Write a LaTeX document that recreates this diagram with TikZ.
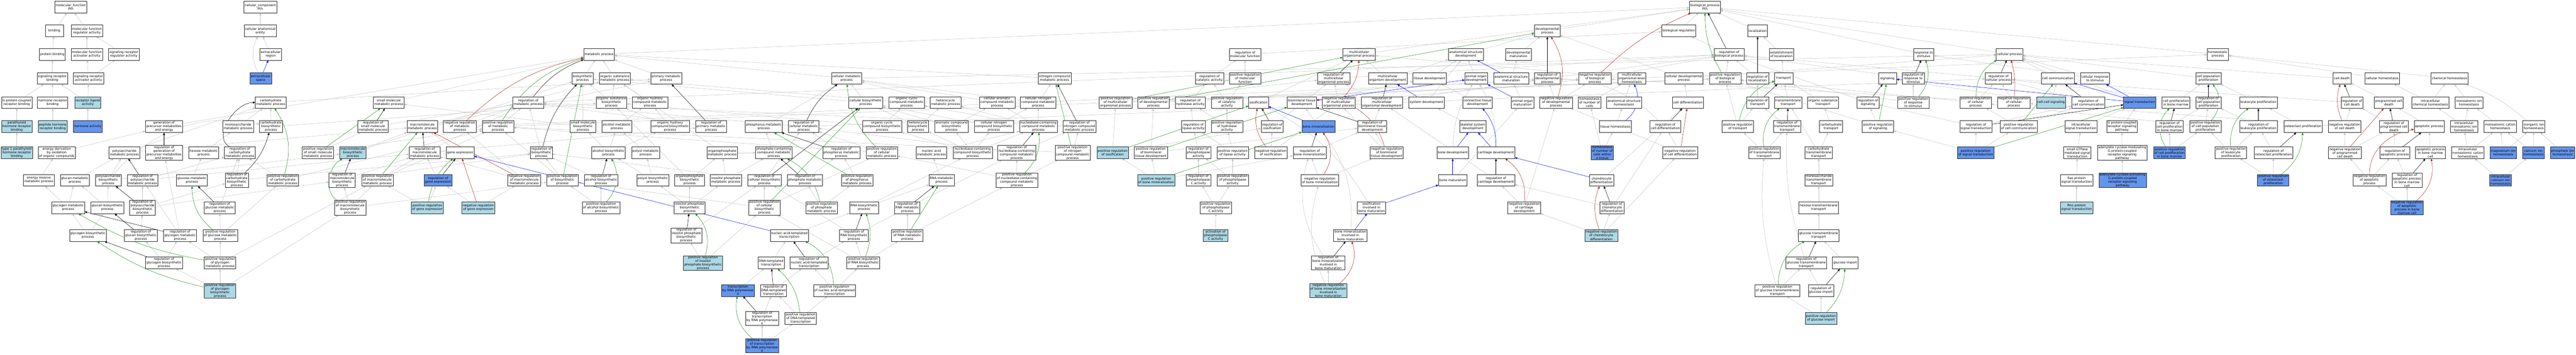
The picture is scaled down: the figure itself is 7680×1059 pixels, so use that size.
\documentclass[tikz,border=0pt]{standalone}
\usepackage{fontspec}
\setmainfont{DejaVu Sans}
\usetikzlibrary{arrows.meta,backgrounds}
\definecolor{lightblue}{RGB}{173,216,230}
\definecolor{cornflower}{RGB}{100,149,237}
\definecolor{edgegray}{RGB}{196,196,196}
\definecolor{posgreen}{RGB}{34,139,34}
\definecolor{negred}{RGB}{178,34,34}
\begin{document}
\begin{tikzpicture}[x=1pt,y=-1pt]
    \tikzstyle{term}=[rectangle,draw=black!85,line width=0.9pt,fill=white,align=center,font=\fontsize{9.5}{10.8}\selectfont,inner xsep=2.5pt,inner ysep=1pt,minimum height=35pt,minimum width=54pt]
    \tikzstyle{hit}=[term,fill=lightblue]
    \tikzstyle{annot}=[term,fill=cornflower]
    \tikzstyle{isa}=[color=edgegray,line width=0.8pt,-{Triangle[length=7pt,width=6pt]}]
    \tikzstyle{regs}=[isa,color=black]
    \tikzstyle{posregs}=[isa,color=posgreen]
    \tikzstyle{negregs}=[isa,color=negred]
    \tikzstyle{partof}=[isa,color=blue]
    \useasboundingbox (0,0) rectangle (7680,1059);
    \node[term] (mf) at (211,21) {molecular\_function\\Pth};
    \node[term] (cc) at (776,21) {cellular\_component\\Pth};
    \node[term] (bp) at (5083,21) {biological\_process\\Pth};
    \node[term] (binding) at (162,92) {binding};
    \node[term] (mfreg) at (259,92) {molecular function\\regulator activity};
    \node[term] (cae) at (776,92) {cellular anatomical\\entity};
    \node[term] (devproc) at (4613,92) {developmental\\process};
    \node[term] (bioreg) at (5005,92) {biological regulation};
    \node[term] (localization) at (5240,92) {localization};
    \node[term] (protbind) at (156,162) {protein binding};
    \node[term] (mfact) at (259,162) {molecular function\\activator activity};
    \node[term] (srra) at (369,162) {signaling receptor\\regulator activity};
    \node[term] (extreg) at (807,162) {extracellular\\region};
    \node[term] (metproc) at (1786,162) {metabolic process};
    \node[term] (regmolfunc) at (3712,162) {regulation of\\molecular function};
    \node[term] (multicellproc) at (4052,162) {multicellular\\organismal process};
    \node[term] (anatdev) at (4370,162) {anatomical structure\\development};
    \node[term] (devmatur) at (4527,162) {developmental\\maturation};
    \node[term] (regbioproc) at (5155,162) {regulation of\\biological process};
    \node[term] (estlocal) at (5311,162) {establishment\\of localization};
    \node[term] (responsestim) at (5735,162) {response to\\stimulus};
    \node[term] (cellproc) at (5991,162) {cellular process};
    \node[term] (homeoproc) at (6612,162) {homeostatic\\process};
    \node[term] (srb) at (156,234) {signaling receptor\\binding};
    \node[term] (sraa) at (264,234) {signaling receptor\\activator activity};
    \node[annot] (extspace) at (777,234) {extracellular\\space};
    \node[term] (biosyn) at (1737,234) {biosynthetic\\process};
    \node[term] (orgsubmet) at (1833,234) {organic substance\\metabolic process};
    \node[term] (primmet) at (1986,234) {primary metabolic\\process};
    \node[term] (cellmet) at (2524,234) {cellular metabolic\\process};
    \node[term] (nitrogenmet) at (3144,234) {nitrogen compound\\metabolic process};
    \node[term] (regcatal) at (3606,234) {regulation of\\catalytic activity};
    \node[term] (posregmolfunc) at (3712,234) {positive regulation\\of molecular\\function};
    \node[term] (regmulticell) at (3976,234) {regulation of\\multicellular\\organismal process};
    \node[term] (multicelldev) at (4137,234) {multicellular\\organism development};
    \node[term] (tissuedev) at (4262,234) {tissue development};
    \node[term] (animalorgandev) at (4401,234) {animal organ\\development};
    \node[term] (anatmatur) at (4505,234) {anatomical structure\\maturation};
    \node[term] (regdevproc) at (4613,234) {regulation of\\developmental\\process};
    \node[term] (negregbioproc) at (4755,234) {negative regulation\\of biological\\process};
    \node[term] (multicellhomeo) at (4865,234) {multicellular\\organismal-level\\homeostasis};
    \node[term] (celldevproc) at (5020,234) {cellular developmental\\process};
    \node[term] (posregbioproc) at (5143,234) {positive regulation\\of biological\\process};
    \node[term] (reglocal) at (5240,234) {regulation of\\localization};
    \node[term] (transport) at (5318,234) {transport};
    \node[term] (signaling) at (5627,234) {signaling};
    \node[term] (regrespstim) at (5704,234) {regulation of\\response to\\stimulus};
    \node[term] (regcellproc) at (5958,234) {regulation of\\cellular process};
    \node[term] (cellcomm) at (6135,234) {cell communication};
    \node[term] (cellrespstim) at (6246,234) {cellular response\\to stimulus};
    \node[term] (cellpopprolif) at (6584,234) {cell population\\proliferation};
    \node[term] (celldeath) at (6982,234) {cell death};
    \node[term] (cellhomeo) at (7102,234) {cellular homeostasis};
    \node[term] (chemhomeo) at (7303,234) {chemical homeostasis};
    \node[term] (gpcrb) at (50,306) {G protein-coupled\\receptor binding};
    \node[term] (hrb) at (157,306) {hormone receptor\\binding};
    \node[hit] (rla) at (262,306) {receptor ligand\\activity};
    \node[term] (carbmet) at (807,306) {carbohydrate\\metabolic process};
    \node[term] (smallmol) at (1159,306) {small molecule\\metabolic process};
    \node[term] (regmet) at (1575,306) {regulation of\\metabolic process};
    \node[term] (orgsubbio) at (1823,306) {organic substance\\biosynthetic\\process};
    \node[term] (orghydroxymet) at (1938,306) {organic hydroxy\\compound metabolic\\process};
    \node[term] (cellbiosyn) at (2581,306) {cellular biosynthetic\\process};
    \node[term] (orgcyclicmet) at (2703,306) {organic cyclic\\compound metabolic\\process};
    \node[term] (heteromet) at (2819,306) {heterocycle\\metabolic process};
    \node[term] (cellaromet) at (2973,306) {cellular aromatic\\compound metabolic\\process};
    \node[term] (cellnitromet) at (3095,306) {cellular nitrogen\\compound metabolic\\process};
    \node[term] (posregmulticell) at (3326,306) {positive regulation\\of multicellular\\organismal process};
    \node[term] (posregdev) at (3439,306) {positive regulation\\of developmental\\process};
    \node[term] (reghydrolase) at (3549,306) {regulation of\\hydrolase activity};
    \node[term] (posregcatal) at (3658,306) {positive regulation\\of catalytic\\activity};
    \node[term] (ossification) at (3752,306) {ossification};
    \node[term] (biomintissue) at (3881,306) {biomineral tissue\\development};
    \node[term] (negregmulticell) at (3991,306) {negative regulation\\of multicellular\\organismal process};
    \node[term] (regmulticelldev) at (4120,306) {regulation of\\multicellular\\organismal development};
    \node[term] (systemdev) at (4253,306) {system development};
    \node[term] (conntissuedev) at (4405,306) {connective tissue\\development};
    \node[term] (animalorganmatur) at (4539,306) {animal organ\\maturation};
    \node[term] (negregdevproc) at (4639,306) {negative regulation\\of developmental\\process};
    \node[term] (homeonumcells) at (4739,306) {homeostasis\\of number of\\cells};
    \node[term] (anatstructhomeo) at (4842,306) {anatomical structure\\homeostasis};
    \node[term] (celldiff) at (5032,306) {cell differentiation};
    \node[term] (regtransport) at (5240,306) {regulation of\\transport};
    \node[term] (tmtransport) at (5331,306) {transmembrane\\transport};
    \node[term] (orgsubtransport) at (5435,306) {organic substance\\transport};
    \node[term] (regsignaling) at (5569,306) {regulation of\\signaling};
    \node[term] (posregrespstim) at (5704,306) {positive regulation\\of response\\to stimulus};
    \node[term] (posregcellproc) at (5890,306) {positive regulation\\of cellular\\process};
    \node[term] (negregcellproc) at (6004,306) {negative regulation\\of cellular\\process};
    \node[hit] (cellcellsig) at (6115,306) {cell-cell signaling};
    \node[term] (regcellcomm) at (6226,306) {regulation of\\cell communication};
    \node[annot] (signaltrans) at (6379,306) {signal transduction};
    \node[term] (cellprolifbm) at (6487,306) {cell proliferation\\in bone marrow};
    \node[term] (regcellpopprolif) at (6584,306) {regulation of\\cell population\\proliferation};
    \node[term] (leukoprolif) at (6733,306) {leukocyte proliferation};
    \node[term] (regcelldeath) at (7012,306) {regulation of\\cell death};
    \node[term] (PCD) at (7122,306) {programmed cell\\death};
    \node[term] (intracellchemhomeo) at (7246,306) {intracellular\\chemical homeostasis};
    \node[term] (monoatomichomeo) at (7361,306) {monoatomic ion\\homeostasis};
    \node[hit] (pthrb) at (50,378) {parathyroid\\hormone receptor\\binding};
    \node[hit] (phrb) at (157,378) {peptide hormone\\receptor binding};
    \node[annot] (hormact) at (262,378) {hormone activity};
    \node[term] (genprec) at (489,378) {generation of\\precursor metabolites\\and energy};
    \node[term] (monosacc) at (710,378) {monosaccharide\\metabolic process};
    \node[term] (carbbio) at (808,378) {carbohydrate\\biosynthetic\\process};
    \node[term] (regsmallmol) at (1112,378) {regulation of\\small molecule\\metabolic process};
    \node[term] (macromet) at (1259,378) {macromolecule\\metabolic process};
    \node[term] (negregmet) at (1371,378) {negative regulation\\of metabolic\\process};
    \node[term] (posregmet) at (1485,378) {positive regulation\\of metabolic\\process};
    \node[term] (smallmolbio) at (1738,378) {small molecule\\biosynthetic\\process};
    \node[term] (alcoholmet) at (1839,378) {alcohol metabolic\\process};
    \node[term] (orghydroxybio) at (1998,378) {organic hydroxy\\compound biosynthetic\\process};
    \node[term] (regprimmet) at (2120,378) {regulation of\\primary metabolic\\process};
    \node[term] (phosmet) at (2277,378) {phosphorus metabolic\\process};
    \node[term] (regcellmet) at (2396,378) {regulation of\\cellular metabolic\\process};
    \node[term] (orgcyclicbio) at (2630,378) {organic cyclic\\compound biosynthetic\\process};
    \node[term] (heterobio) at (2737,378) {heterocycle\\biosynthetic\\process};
    \node[term] (arobio) at (2837,378) {aromatic compound\\biosynthetic\\process};
    \node[term] (cellnitrobio) at (2963,378) {cellular nitrogen\\compound biosynthetic\\process};
    \node[term] (nucleomet) at (3096,378) {nucleobase-containing\\compound metabolic\\process};
    \node[term] (regnitromet) at (3218,378) {regulation of\\nitrogen compound\\metabolic process};
    \node[term] (reglipase) at (3558,378) {regulation of\\lipase activity};
    \node[term] (posreghydrolase) at (3658,378) {positive regulation\\of hydrolase\\activity};
    \node[term] (regossif) at (3793,378) {regulation of\\ossification};
    \node[annot] (bonemin) at (3931,378) {bone mineralization};
    \node[term] (regbiomintissue) at (4091,378) {regulation of\\biomineral tissue\\development};
    \node[term] (skeletaldev) at (4391,378) {skeletal system\\development};
    \node[term] (tissuehomeo) at (4816,378) {tissue homeostasis};
    \node[term] (regcelldiff) at (4965,378) {regulation of\\cell differentiation};
    \node[term] (posregtransport) at (5181,378) {positive regulation\\of transport};
    \node[term] (regtmtransport) at (5328,378) {regulation of\\transmembrane\\transport};
    \node[term] (carbtransport) at (5459,378) {carbohydrate\\transport};
    \node[term] (posregsignaling) at (5599,378) {positive regulation\\of signaling};
    \node[term] (regsigtrans) at (5891,378) {regulation of\\signal transduction};
    \node[term] (posregcellcomm) at (6018,378) {positive regulation\\of cell communication};
    \node[term] (intracellsig) at (6204,378) {intracellular\\signal transduction};
    \node[term] (gpcrsig) at (6326,378) {G protein-coupled\\receptor signaling\\pathway};
    \node[term] (regcellprolifbm) at (6468,378) {regulation of\\cell proliferation\\in bone marrow};
    \node[term] (posregcellpopprolif) at (6575,378) {positive regulation\\of cell population\\proliferation};
    \node[term] (regleukoprolif) at (6733,378) {regulation of\\leukocyte proliferation};
    \node[term] (osteoclastprolif) at (6866,378) {osteoclast proliferation};
    \node[term] (negregcelldeath) at (6990,378) {negative regulation\\of cell death};
    \node[term] (regPCD) at (7137,378) {regulation of\\programmed cell\\death};
    \node[term] (apoptotic) at (7242,378) {apoptotic process};
    \node[term] (intracellmonoatomic) at (7346,378) {intracellular\\monoatomic ion\\homeostasis};
    \node[term] (monoatomiccation) at (7454,378) {monoatomic cation\\homeostasis};
    \node[term] (inorganicion) at (7554,378) {inorganic ion\\homeostasis};
    \node[hit] (t1pth) at (50,456) {type 1 parathyroid\\hormone receptor\\binding};
    \node[term] (edox) at (169,456) {energy derivation\\by oxidation\\of organic compounds};
    \node[term] (polysacc) at (371,456) {polysaccharide\\metabolic process};
    \node[term] (reggenprec) at (489,456) {regulation of\\generation of\\precursor metabolites\\and energy};
    \node[term] (hexose) at (607,456) {hexose metabolic\\process};
    \node[term] (regcarbmet) at (715,456) {regulation of\\carbohydrate\\metabolic process};
    \node[term] (posregsmallmol) at (948,456) {positive regulation\\of small molecule\\metabolic process};
    \node[hit] (macrobio) at (1052,456) {macromolecule\\biosynthetic\\process};
    \node[term] (regmacromet) at (1266,456) {regulation of\\macromolecule\\metabolic process};
    \node[term] (geneexpr) at (1372,456) {gene expression};
    \node[term] (regbiosyn) at (1614,456) {regulation of\\biosynthetic\\process};
    \node[term] (alcoholbio) at (1814,456) {alcohol biosynthetic\\process};
    \node[term] (polyolmet) at (1925,456) {polyol metabolic\\process};
    \node[term] (orgphosmet) at (2153,456) {organophosphate\\metabolic process};
    \node[term] (phoscontmet) at (2307,456) {phosphate-containing\\compound metabolic\\process};
    \node[term] (regphosmet) at (2508,456) {regulation of\\phosphorus metabolic\\process};
    \node[term] (posregcellmet) at (2629,456) {positive regulation\\of cellular\\metabolic process};
    \node[term] (nucacidmet) at (2777,456) {nucleic acid\\metabolic process};
    \node[term] (nucleobio) at (2900,456) {nucleobase-containing\\compound biosynthetic\\process};
    \node[term] (regnucleomet) at (3031,456) {regulation of\\nucleobase-containing\\compound metabolic\\process};
    \node[term] (posregnitromet) at (3198,456) {positive regulation\\of nitrogen\\compound metabolic\\process};
    \node[hit] (posregossif) at (3317,456) {positive regulation\\of ossification};
    \node[term] (posregbiomin) at (3431,456) {positive regulation\\of biomineral\\tissue development};
    \node[term] (regphospholipase) at (3573,456) {regulation of\\phospholipase\\activity};
    \node[term] (posreglipase) at (3675,456) {positive regulation\\of lipase activity};
    \node[term] (negregossif) at (3789,456) {negative regulation\\of ossification};
    \node[term] (regbonemin) at (3905,456) {regulation of\\bone mineralization};
    \node[term] (negregbiomin) at (4134,456) {negative regulation\\of biomineral\\tissue development};
    \node[term] (bonedev) at (4331,456) {bone development};
    \node[term] (cartdev) at (4460,456) {cartilage development};
    \node[annot] (homeonumcellstissue) at (4777,456) {homeostasis\\of number of\\cells within\\a tissue};
    \node[term] (negregcelldiff) at (5009,456) {negative regulation\\of cell differentiation};
    \node[term] (posregtmtransport) at (5260,456) {positive regulation\\of transmembrane\\transport};
    \node[term] (carbtmtransport) at (5422,456) {carbohydrate\\transmembrane\\transport};
    \node[annot] (posregsigtrans) at (5890,456) {positive regulation\\of signal transduction};
    \node[term] (smallGTPase) at (6193,456) {small GTPase\\mediated signal\\transduction};
    \node[term] (adenylmod) at (6327,456) {adenylate cyclase-modulating\\G protein-coupled\\receptor signaling\\pathway};
    \node[annot] (posregcellprolifbm) at (6468,456) {positive regulation\\of cell proliferation\\in bone marrow};
    \node[term] (posregleukoprolif) at (6651,456) {positive regulation\\of leukocyte\\proliferation};
    \node[term] (regosteoclastprolif) at (6778,456) {regulation of\\osteoclast proliferation};
    \node[term] (negregPCD) at (6991,456) {negative regulation\\of programmed\\cell death};
    \node[term] (regapop) at (7140,456) {regulation of\\apoptotic process};
    \node[term] (apopbm) at (7246,456) {apoptotic process\\in bone marrow\\cell};
    \node[term] (intracellmonocation) at (7357,456) {intracellular\\monoatomic cation\\homeostasis};
    \node[annot] (magnesium) at (7463,456) {magnesium ion\\homeostasis};
    \node[annot] (calcium) at (7553,456) {calcium ion\\homeostasis};
    \node[annot] (phosphate) at (7640,456) {phosphate ion\\homeostasis};
    \node[term] (energyres) at (116,538) {energy reserve\\metabolic process};
    \node[term] (glucanmet) at (223,538) {glucan metabolic\\process};
    \node[term] (polysaccbio) at (323,538) {polysaccharide\\biosynthetic\\process};
    \node[term] (regpolysacc) at (425,538) {regulation of\\polysaccharide\\metabolic process};
    \node[term] (glucosemet) at (572,538) {glucose metabolic\\process};
    \node[term] (regcarbbio) at (706,538) {regulation of\\carbohydrate\\biosynthetic\\process};
    \node[term] (posregcarbmet) at (843,538) {positive regulation\\of carbohydrate\\metabolic process};
    \node[term] (regmacrobio) at (1020,538) {regulation of\\macromolecule\\biosynthetic\\process};
    \node[term] (posregmacromet) at (1125,538) {positive regulation\\of macromolecule\\metabolic process};
    \node[annot] (regGE) at (1306,538) {regulation of\\gene expression};
    \node[term] (negregmacromet) at (1563,538) {negative regulation\\of macromolecule\\metabolic process};
    \node[term] (posregbiosyn) at (1677,538) {positive regulation\\of biosynthetic\\process};
    \node[term] (regalcoholbio) at (1792,538) {regulation of\\alcohol biosynthetic\\process};
    \node[term] (polyolbio) at (1946,538) {polyol biosynthetic\\process};
    \node[term] (orgphosbio) at (2056,538) {organophosphate\\biosynthetic\\process};
    \node[term] (inosphosmet) at (2164,538) {inositol phosphate\\metabolic process};
    \node[term] (regcellbiosyn) at (2279,538) {regulation of\\cellular biosynthetic\\process};
    \node[term] (regphosphatemet) at (2400,538) {regulation of\\phosphate metabolic\\process};
    \node[term] (posregphosmet) at (2555,538) {positive regulation\\of phosphorus\\metabolic process};
    \node[term] (rnamet) at (2807,538) {RNA metabolic\\process};
    \node[term] (posregnucleomet) at (3032,538) {positive regulation\\of nucleobase-containing\\compound metabolic\\process};
    \node[hit] (posregbonemin) at (3447,538) {positive regulation\\of bone mineralization};
    \node[term] (regPLC) at (3573,538) {regulation of\\phospholipase\\C activity};
    \node[term] (posregphospholipase) at (3675,538) {positive regulation\\of phospholipase\\activity};
    \node[term] (negregbonemin) at (3935,538) {negative regulation\\of bone mineralization};
    \node[term] (bonematur) at (4331,538) {bone maturation};
    \node[term] (regcartdev) at (4460,538) {regulation of\\cartilage development};
    \node[term] (chondrodiff) at (4775,538) {chondrocyte\\differentiation};
    \node[term] (monosacctm) at (5422,538) {monosaccharide\\transmembrane\\transport};
    \node[term] (rasprot) at (6191,538) {Ras protein\\signal transduction};
    \node[annot] (adenylact) at (6328,538) {adenylate cyclase-activating\\G protein-coupled\\receptor signaling\\pathway};
    \node[annot] (posregosteoclastprolif) at (6777,538) {positive regulation\\of osteoclast\\proliferation};
    \node[term] (negregapop) at (7064,538) {negative regulation\\of apoptotic\\process};
    \node[term] (regapopbm) at (7176,538) {regulation of\\apoptotic process\\in bone marrow\\cell};
    \node[annot] (intracellcalcium) at (7455,538) {intracellular\\calcium ion\\homeostasis};
    \node[term] (glycogenmet) at (203,620) {glycogen metabolic\\process};
    \node[term] (glucanbio) at (320,620) {glucan biosynthetic\\process};
    \node[term] (regpolysaccbio) at (425,620) {regulation of\\polysaccharide\\biosynthetic\\process};
    \node[term] (regglucosemet) at (655,620) {regulation of\\glucose metabolic\\process};
    \node[term] (posregmacrobio) at (1044,620) {positive regulation\\of macromolecule\\biosynthetic\\process};
    \node[hit] (posregGE) at (1274,620) {positive regulation\\of gene expression};
    \node[hit] (negregGE) at (1426,620) {negative regulation\\of gene expression};
    \node[term] (posregalcoholbio) at (1792,620) {positive regulation\\of alcohol biosynthetic\\process};
    \node[term] (inosphosbio) at (2056,620) {inositol phosphate\\biosynthetic\\process};
    \node[term] (posregcellbiosyn) at (2279,620) {positive regulation\\of cellular\\biosynthetic\\process};
    \node[term] (posregphosphatemet) at (2449,620) {positive regulation\\of phosphate\\metabolic process};
    \node[term] (rnabiosyn) at (2576,620) {RNA biosynthetic\\process};
    \node[term] (regrnamet) at (2705,620) {regulation of\\RNA metabolic\\process};
    \node[term] (posregPLC) at (3625,620) {positive regulation\\of phospholipase\\C activity};
    \node[term] (ossifbonematur) at (4089,620) {ossification\\involved in\\bone maturation};
    \node[term] (negregcartdev) at (4544,620) {negative regulation\\of cartilage\\development};
    \node[term] (regchondrodiff) at (4806,620) {regulation of\\chondrocyte\\differentiation};
    \node[term] (hexosetm) at (5422,620) {hexose transmembrane\\transport};
    \node[hit] (rhoprot) at (6191,620) {Rho protein\\signal transduction};
    \node[annot] (negregapopbm) at (7176,620) {negative regulation\\of apoptotic\\process in bone\\marrow cell};
    \node[term] (glycogenbio) at (262,703) {glycogen biosynthetic\\process};
    \node[term] (regglucanbio) at (420,703) {regulation of\\glucan biosynthetic\\process};
    \node[term] (regglycogenmet) at (537,703) {regulation of\\glycogen metabolic\\process};
    \node[term] (posregglucosemet) at (657,703) {positive regulation\\of glucose metabolic\\process};
    \node[term] (reginosphosbio) at (2046,703) {regulation of\\inositol phosphate\\biosynthetic\\process};
    \node[term] (nucacidtrans) at (2353,703) {nucleic acid-templated\\transcription};
    \node[term] (regrnabiosyn) at (2546,703) {regulation of\\RNA biosynthetic\\process};
    \node[term] (posregrnamet) at (2705,703) {positive regulation\\of RNA metabolic\\process};
    \node[hit] (actPLC) at (3624,703) {activation of\\phospholipase\\C activity};
    \node[term] (boneminbonematur) at (4026,703) {bone mineralization\\involved in\\bone maturation};
    \node[hit] (negregchondrodiff) at (4774,703) {negative regulation\\of chondrocyte\\differentiation};
    \node[term] (glucosetm) at (5422,703) {glucose transmembrane\\transport};
    \node[term] (regglycogenbio) at (489,785) {regulation of\\glycogen biosynthetic\\process};
    \node[term] (posregglycogenmet) at (656,785) {positive regulation\\of glycogen\\metabolic process};
    \node[hit] (posreginosphosbio) at (2096,785) {positive regulation\\of inositol\\phosphate biosynthetic\\process};
    \node[term] (dnatrans) at (2299,785) {DNA-templated\\transcription};
    \node[term] (regnucacidtrans) at (2412,785) {regulation of\\nucleic acid-templated\\transcription};
    \node[term] (posregrnabiosyn) at (2573,785) {positive regulation\\of RNA biosynthetic\\process};
    \node[term] (regboneminbonematur) at (3960,785) {regulation of\\bone mineralization\\involved in\\bone maturation};
    \node[term] (regglucosetm) at (5385,785) {regulation of\\glucose transmembrane\\transport};
    \node[term] (glucoseimport) at (5501,785) {glucose import};
    \node[hit] (posregglycogenbio) at (656,868) {positive regulation\\of glycogen\\biosynthetic\\process};
    \node[annot] (transRNAPII) at (2200,867) {transcription\\by RNA polymerase\\II};
    \node[term] (regDNAtrans) at (2306,867) {regulation of\\DNA-templated\\transcription};
    \node[term] (posregnucacidtrans) at (2488,867) {positive regulation\\of nucleic acid-templated\\transcription};
    \node[hit] (negregboneminbonematur) at (3960,868) {negative regulation\\of bone mineralization\\involved in\\bone maturation};
    \node[term] (posregglucosetm) at (5299,867) {positive regulation\\of glucose transmembrane\\transport};
    \node[term] (regglucoseimport) at (5429,867) {regulation of\\glucose import};
    \node[term] (regtransRNAPII) at (2272,950) {regulation of\\transcription\\by RNA polymerase\\II};
    \node[term] (posregDNAtrans) at (2387,950) {positive regulation\\of DNA-templated\\transcription};
    \node[hit] (posregglucoseimport) at (5429,950) {positive regulation\\of glucose import};
    \node[annot] (posregtransRNAPII) at (2272,1032) {positive regulation\\of transcription\\by RNA polymerase\\II};
    \begin{pgfonlayer}{background}
    \fill[white] (0,0) rectangle (7680,1059);
    \path[isa] (binding) edge (mf) (mfreg) edge (mf) (protbind) edge (binding) (mfact) edge (mfreg) (srra) edge (mfreg)
      (srb) edge (protbind) (sraa) edge (mfact) (sraa) edge (srra) (gpcrb) edge (srb) (hrb) edge (srb) (rla) edge (srb)
      (rla) edge (sraa) (pthrb) edge (gpcrb) (phrb) edge (hrb) (hormact) edge (rla) (t1pth) edge (pthrb)
      (cae) edge (cc) (extreg) edge (cae) (extspace) edge[bend left=25] (cae);
    \path[isa] (edox) edge (genprec) (energyres) edge (edox) (glucanmet) edge (polysacc) (polysaccbio) edge (polysacc)
      (glycogenmet) edge (energyres) (glycogenmet) edge (glucanmet) (glucanbio) edge (glucanmet) (glucanbio) edge (polysaccbio)
      (regpolysaccbio) edge (regpolysacc) (glycogenbio) edge (glycogenmet) (glycogenbio) edge (glucanbio)
      (regglucanbio) edge (regpolysaccbio) (regglycogenmet) edge (regpolysacc) (regglycogenmet) edge (reggenprec)
      (regglycogenbio) edge (regglucanbio) (regglycogenbio) edge (regglycogenmet) (posregglycogenmet) edge (regglycogenmet)
      (posregglycogenmet) edge (posregglucosemet) (posregglycogenbio) edge (regglycogenbio) (posregglycogenbio) edge (posregglycogenmet)
      (glucosemet) edge (hexose) (posregglucosemet) edge (regglucosemet) (hexose) edge (monosacc) (polysacc) edge (carbmet)
      (polysacc) edge (macromet) (polysaccbio) edge[bend left=30] (carbbio) (polysaccbio) edge (macrobio) (genprec) edge (metproc)
      (regpolysacc) edge (regcarbmet) (regpolysacc) edge (regmacromet) (regpolysaccbio) edge (regcarbbio) (regpolysaccbio) edge (regmacrobio)
      (regglucosemet) edge (regcarbmet) (posregglucosemet) edge (posregcarbmet) (posregglycogenbio) edge (posregmacrobio)
      (posregglycogenmet) edge (posregmacromet);
    \path[isa] (monosacc) edge (carbmet) (carbbio) edge (carbmet) (carbbio) edge (orgsubbio) (regcarbbio) edge (regcarbmet)
      (regcarbbio) edge (regbiosyn) (posregcarbmet) edge (regcarbmet) (posregcarbmet) edge (posregmet) (posregsmallmol) edge (regsmallmol)
      (posregsmallmol) edge (posregmet) (regsmallmol) edge (regmet) (macrobio) edge (macromet) (macrobio) edge (biosyn)
      (regmacrobio) edge (regmacromet) (regmacrobio) edge (regbiosyn) (posregmacromet) edge (regmacromet) (posregmacromet) edge (posregmet)
      (posregmacrobio) edge (regmacrobio) (posregmacrobio) edge (posregmacromet) (posregmacrobio) edge (posregbiosyn)
      (posregGE) edge (regGE) (posregGE) edge (posregmacromet) (negregGE) edge (regGE) (negregGE) edge (negregmacromet)
      (regGE) edge (regmacromet) (geneexpr) edge (macromet) (regmacromet) edge (regmet) (regmacromet) edge (regprimmet)
      (smallmol) edge (metproc) (carbmet) edge (primmet) (macromet) edge (orgsubmet) (macromet) edge (primmet);
    \path[isa] (biosyn) edge (metproc) (orgsubmet) edge (metproc) (negregmet) edge (regmet) (posregmet) edge (regmet)
      (regbiosyn) edge (regmet) (posregbiosyn) edge (regbiosyn) (posregbiosyn) edge (posregmet) (negregmacromet) edge (negregmet)
      (negregmacromet) edge (regmacromet) (orgsubbio) edge (orgsubmet) (orgsubbio) edge (biosyn) (smallmolbio) edge (biosyn)
      (smallmolbio) edge (smallmol) (alcoholmet) edge (orghydroxymet) (alcoholbio) edge (alcoholmet) (alcoholbio) edge (smallmolbio)
      (alcoholbio) edge (orghydroxybio) (posregalcoholbio) edge (regalcoholbio) (posregalcoholbio) edge (posregbiosyn)
      (polyolmet) edge (alcoholmet) (polyolbio) edge (polyolmet) (polyolbio) edge (alcoholbio) (orghydroxymet) edge (orgsubmet)
      (regalcoholbio) edge (regbiosyn) (primmet) edge (metproc) (regprimmet) edge (regmet) (cellmet) edge (metproc)
      (regcellmet) edge (regmet) (orghydroxybio) edge (orghydroxymet) (orghydroxybio) edge (orgsubbio) (phosmet) edge (cellmet)
      (orgphosmet) edge (phoscontmet) (orgphosmet) edge (orgsubmet) (phoscontmet) edge (phosmet) (regphosmet) edge (regcellmet)
      (regphosphatemet) edge (regphosmet) (posregphosmet) edge (regphosmet) (posregphosphatemet) edge (regphosphatemet)
      (posregphosphatemet) edge (posregphosmet) (orgphosbio) edge (orgphosmet) (orgphosbio) edge (orgsubbio)
      (inosphosmet) edge (orgphosmet) (inosphosmet) edge (phoscontmet) (regcellbiosyn) edge (regbiosyn) (regcellbiosyn) edge (regcellmet)
      (posregcellbiosyn) edge (regcellbiosyn) (posregcellbiosyn) edge (posregbiosyn) (posregcellbiosyn) edge (posregcellmet)
      (inosphosbio) edge (inosphosmet) (inosphosbio) edge (orgphosbio) (inosphosbio) edge (polyolbio) (reginosphosbio) edge (regcellbiosyn)
      (posreginosphosbio) edge (reginosphosbio) (posreginosphosbio) edge (posregcellbiosyn);
    \path[isa] (nucacidtrans) edge (rnabiosyn) (dnatrans) edge (nucacidtrans) (regnucacidtrans) edge (regrnabiosyn)
      (posregrnabiosyn) edge (regrnabiosyn) (posregrnabiosyn) edge (posregcellbiosyn) (posregrnabiosyn) edge (posregrnamet)
      (transRNAPII) edge (dnatrans) (regDNAtrans) edge (regnucacidtrans) (posregnucacidtrans) edge (regnucacidtrans)
      (posregnucacidtrans) edge (posregrnabiosyn) (regtransRNAPII) edge (regDNAtrans) (posregDNAtrans) edge (regDNAtrans)
      (posregDNAtrans) edge (posregnucacidtrans) (posregtransRNAPII) edge (regtransRNAPII) (posregtransRNAPII) edge (posregDNAtrans)
      (regrnabiosyn) edge (regcellbiosyn) (regrnabiosyn) edge (regrnamet) (cellbiosyn) edge (cellmet) (cellbiosyn) edge (biosyn)
      (nitrogenmet) edge (metproc) (orgcyclicmet) edge (orgsubmet) (heteromet) edge (cellmet) (cellaromet) edge (cellmet)
      (cellnitromet) edge (nitrogenmet) (cellnitromet) edge (cellmet) (orgcyclicbio) edge (orgcyclicmet) (orgcyclicbio) edge (orgsubbio)
      (heterobio) edge (heteromet) (heterobio) edge (cellbiosyn) (arobio) edge (cellaromet) (arobio) edge (cellbiosyn)
      (cellnitrobio) edge (cellnitromet) (cellnitrobio) edge (cellbiosyn) (nucleomet) edge (heteromet) (nucleomet) edge (cellaromet)
      (nucleomet) edge (cellnitromet) (nucleomet) edge (orgcyclicmet) (regnitromet) edge (regmet) (posregcellmet) edge (regcellmet)
      (posregcellmet) edge (posregmet) (nucacidmet) edge (nucleomet) (nucleobio) edge (nucleomet) (nucleobio) edge (heterobio)
      (nucleobio) edge (arobio) (nucleobio) edge (cellnitrobio) (nucleobio) edge (orgcyclicbio) (regnucleomet) edge (regnitromet)
      (regnucleomet) edge (regcellmet) (posregnitromet) edge (regnitromet) (posregnitromet) edge (posregmet) (rnamet) edge (nucacidmet)
      (posregrnamet) edge (regrnamet) (posregrnamet) edge (posregnucleomet) (posregnucleomet) edge (regnucleomet)
      (posregnucleomet) edge (posregnitromet) (posregnucleomet) edge (posregcellmet) (regrnamet) edge (regnucleomet)
      (rnabiosyn) edge (rnamet) (rnabiosyn) edge (nucleobio);
    \path[isa] (regmolfunc) edge (bioreg) (regcatal) edge (regmolfunc) (posregmolfunc) edge (regmolfunc) (reghydrolase) edge (regcatal)
      (posregcatal) edge (regcatal) (posregcatal) edge (posregmolfunc) (reglipase) edge (reghydrolase) (posreghydrolase) edge (posregcatal)
      (posreghydrolase) edge (reghydrolase) (regphospholipase) edge (reglipase) (posreglipase) edge (posreghydrolase)
      (posreglipase) edge (reglipase) (regPLC) edge (regphospholipase) (posregphospholipase) edge (posreglipase)
      (posregphospholipase) edge (regphospholipase) (posregPLC) edge (regPLC) (posregPLC) edge (posregphospholipase)
      (actPLC) edge (posregPLC) (posregossif) edge (posregmulticell) (posregossif) edge (regossif) (posregbiomin) edge (posregdev)
      (posregbiomin) edge (regbiomintissue) (posregbonemin) edge (posregossif) (posregbonemin) edge (posregbiomin)
      (posregbonemin) edge (regbonemin) (negregossif) edge (regossif) (negregossif) edge (negregmulticell) (regossif) edge (regmulticell)
      (posregmulticell) edge (regmulticell) (posregmulticell) edge (posregbioproc) (posregdev) edge (regdevproc)
      (posregdev) edge (posregbioproc) (ossification) edge (multicellproc);
    \path[isa] (multicellproc) edge (bp) (regmulticell) edge (regbioproc) (negregmulticell) edge (regmulticell)
      (negregmulticell) edge (negregbioproc) (multicelldev) edge (multicellproc) (multicelldev) edge (anatdev)
      (regmulticelldev) edge (regmulticell) (regmulticelldev) edge (regdevproc) (anatdev) edge (devproc) (tissuedev) edge (anatdev)
      (animalorgandev) edge (anatdev) (systemdev) edge (anatdev) (conntissuedev) edge (tissuedev) (skeletaldev) edge (systemdev)
      (biomintissue) edge (tissuedev) (bonemin) edge (biomintissue) (regbonemin) edge (regbiomintissue)
      (regbiomintissue) edge (regmulticelldev) (negregbiomin) edge (regbiomintissue) (negregbiomin) edge (negregmulticell)
      (negregbonemin) edge (regbonemin) (negregbonemin) edge (negregbiomin) (bonedev) edge[bend left=15] (animalorgandev)
      (cartdev) edge[bend right=15] (animalorgandev) (boneminbonematur) edge[bend right=20] (bonemin)
      (regboneminbonematur) edge[bend left=25] (regbonemin) (negregboneminbonematur) edge (regboneminbonematur)
      (negregboneminbonematur) edge[bend left=20] (negregbonemin) (ossifbonematur) edge[bend right=15] (ossification)
      (bonematur) edge (animalorganmatur);
    \path[isa] (devproc) edge (bp) (devmatur) edge (devproc) (anatmatur) edge (devmatur) (animalorganmatur) edge (anatmatur)
      (negregdevproc) edge (regdevproc) (negregdevproc) edge (negregbioproc) (regdevproc) edge (regbioproc)
      (multicellhomeo) edge (multicellproc) (multicellhomeo) edge (homeoproc) (celldevproc) edge (devproc) (celldevproc) edge (cellproc)
      (homeonumcells) edge (multicellhomeo) (anatstructhomeo) edge (multicellhomeo) (tissuehomeo) edge (anatstructhomeo)
      (homeonumcellstissue) edge (homeonumcells) (homeonumcellstissue) edge (tissuehomeo) (celldiff) edge (celldevproc)
      (regcelldiff) edge[bend right=20] (regdevproc) (negregcelldiff) edge (regcelldiff) (negregcelldiff) edge (negregdevproc)
      (chondrodiff) edge (celldiff) (regchondrodiff) edge (regcelldiff) (regchondrodiff) edge (regcartdev)
      (negregchondrodiff) edge (regchondrodiff) (negregchondrodiff) edge (negregcelldiff) (negregchondrodiff) edge (negregcartdev)
      (negregcartdev) edge (regcartdev) (negregcartdev) edge (negregdevproc) (regcartdev) edge (regmulticelldev)
      (negregbioproc) edge (regbioproc) (posregbioproc) edge (regbioproc);
    \path[isa] (bioreg) edge (bp) (regbioproc) edge (bioreg) (localization) edge (bp) (estlocal) edge (localization)
      (reglocal) edge (regbioproc) (transport) edge (estlocal) (regtransport) edge (reglocal) (posregtransport) edge (regtransport)
      (posregtransport) edge (posregbioproc) (tmtransport) edge (transport) (orgsubtransport) edge (transport)
      (regtmtransport) edge (regtransport) (posregtmtransport) edge (regtmtransport) (posregtmtransport) edge (posregtransport)
      (carbtransport) edge (orgsubtransport) (carbtmtransport) edge (carbtransport) (carbtmtransport) edge (tmtransport)
      (monosacctm) edge (carbtmtransport) (hexosetm) edge (monosacctm) (glucosetm) edge (hexosetm)
      (regglucosetm) edge[bend left=10] (regtmtransport) (glucoseimport) edge (glucosetm) (posregglucosetm) edge (regglucosetm)
      (posregglucosetm) edge[bend left=10] (posregtmtransport) (regglucoseimport) edge (regglucosetm)
      (posregglucoseimport) edge (regglucoseimport) (posregglucoseimport) edge (posregglucosetm)
      (regsignaling) edge (regbioproc) (posregsignaling) edge (regsignaling) (posregsignaling) edge (posregbioproc)
      (responsestim) edge (bp) (regrespstim) edge (regbioproc) (posregrespstim) edge (regrespstim) (posregrespstim) edge (posregbioproc);
    \path[isa] (cellproc) edge (bp) (regcellproc) edge (regbioproc) (posregcellproc) edge (regcellproc)
      (posregcellproc) edge (posregbioproc) (negregcellproc) edge (regcellproc) (negregcellproc) edge (negregbioproc)
      (cellcomm) edge (cellproc) (cellcellsig) edge (cellcomm) (cellcellsig) edge (signaling) (regcellcomm) edge (regcellproc)
      (cellrespstim) edge (cellproc) (cellrespstim) edge (responsestim) (regsigtrans) edge (regcellcomm) (regsigtrans) edge (regsignaling)
      (posregcellcomm) edge (regcellcomm) (posregcellcomm) edge (posregcellproc) (posregsigtrans) edge (regsigtrans)
      (posregsigtrans) edge (posregcellcomm) (posregsigtrans) edge (posregsignaling) (intracellsig) edge (signaltrans)
      (gpcrsig) edge (signaltrans) (smallGTPase) edge (intracellsig) (adenylmod) edge (gpcrsig) (rasprot) edge (smallGTPase)
      (adenylact) edge (adenylmod) (rhoprot) edge (rasprot) (signaltrans) edge (cellproc)
      (homeoproc) edge (bp) (cellpopprolif) edge (cellproc) (celldeath) edge (cellproc) (cellprolifbm) edge (cellpopprolif)
      (regcellpopprolif) edge (regcellproc) (leukoprolif) edge (cellpopprolif) (regcelldeath) edge (regcellproc)
      (regcellprolifbm) edge (regcellpopprolif) (posregcellpopprolif) edge (regcellpopprolif) (posregcellpopprolif) edge (posregcellproc)
      (regleukoprolif) edge (regcellpopprolif) (osteoclastprolif) edge (leukoprolif) (negregcelldeath) edge (regcelldeath)
      (negregcelldeath) edge (negregcellproc) (posregcellprolifbm) edge (regcellprolifbm) (posregcellprolifbm) edge (posregcellpopprolif)
      (posregleukoprolif) edge (regleukoprolif) (posregleukoprolif) edge (posregcellpopprolif) (regosteoclastprolif) edge (regleukoprolif)
      (posregosteoclastprolif) edge (regosteoclastprolif) (posregosteoclastprolif) edge (posregleukoprolif)
      (negregPCD) edge (negregcelldeath) (negregPCD) edge (regPCD);
    \path[isa] (cellhomeo) edge (homeoproc) (chemhomeo) edge (homeoproc) (PCD) edge (celldeath) (intracellchemhomeo) edge (chemhomeo)
      (intracellchemhomeo) edge (cellhomeo) (monoatomichomeo) edge (chemhomeo) (regPCD) edge (regcelldeath) (apoptotic) edge (PCD)
      (intracellmonoatomic) edge (intracellchemhomeo) (intracellmonoatomic) edge (monoatomichomeo) (monoatomiccation) edge (monoatomichomeo)
      (inorganicion) edge[bend right=10] (chemhomeo) (regapop) edge (regPCD) (apopbm) edge (apoptotic)
      (intracellmonocation) edge (intracellmonoatomic) (intracellmonocation) edge (monoatomiccation) (magnesium) edge (monoatomiccation)
      (magnesium) edge (inorganicion) (calcium) edge (monoatomiccation) (calcium) edge (inorganicion) (phosphate) edge (inorganicion)
      (negregapop) edge (regapop) (negregapop) edge (negregPCD) (regapopbm) edge (regapop) (intracellcalcium) edge (intracellmonocation)
      (intracellcalcium) edge (calcium) (negregapopbm) edge (regapopbm) (negregapopbm) edge (negregapop)
      (metproc) edge (bp) (regmet) edge (regbioproc) (negregmet) edge (negregbioproc) (posregmet) edge (posregbioproc)
      (regcellmet) edge (regcellproc) (cellmet) edge (cellproc);
    \path[regs] (regpolysacc) edge (polysacc) (regpolysaccbio) edge (polysaccbio) (regglucanbio) edge (glucanbio)
      (regglycogenmet) edge (glycogenmet) (regglycogenbio) edge (glycogenbio) (reggenprec) edge (genprec) (regglucosemet) edge (glucosemet)
      (regcarbmet) edge[out=150,in=180] (carbmet) (regcarbbio) edge[bend right=15] (carbbio) (regsmallmol) edge (smallmol)
      (regmacrobio) edge (macrobio) (regmacromet) edge (macromet) (regGE) edge (geneexpr) (regmet) edge[bend left=15] (metproc)
      (regbiosyn) edge[bend left=15] (biosyn) (regalcoholbio) edge (alcoholbio) (regprimmet) edge (primmet) (regcellmet) edge[bend left=15] (cellmet)
      (regphosmet) edge (phosmet) (regphosphatemet) edge (phoscontmet) (regcellbiosyn) edge (cellbiosyn) (reginosphosbio) edge (inosphosbio)
      (regnucacidtrans) edge (nucacidtrans) (regrnabiosyn) edge (rnabiosyn) (regDNAtrans) edge (dnatrans)
      (regtransRNAPII) edge (transRNAPII) (regnitromet) edge (nitrogenmet) (regnucleomet) edge (nucleomet) (regrnamet) edge (rnamet)
      (regossif) edge (ossification) (regmulticell) edge (multicellproc) (regmulticelldev) edge (multicelldev) (regbonemin) edge (bonemin)
      (regbiomintissue) edge (biomintissue) (regcartdev) edge (cartdev) (regboneminbonematur) edge (boneminbonematur)
      (regdevproc) edge (devproc) (regcelldiff) edge (celldiff) (regchondrodiff) edge (chondrodiff) (regbioproc) edge (bp)
      (reglocal) edge (localization) (regtransport) edge (transport) (regtmtransport) edge (tmtransport) (regglucosetm) edge (glucosetm)
      (regglucoseimport) edge (glucoseimport) (regsignaling) edge (signaling) (regrespstim) edge (responsestim)
      (regcellproc) edge (cellproc) (regcellcomm) edge (cellcomm) (regsigtrans) edge (signaltrans) (regcellpopprolif) edge (cellpopprolif)
      (regcellprolifbm) edge (cellprolifbm) (regleukoprolif) edge (leukoprolif) (regosteoclastprolif) edge (osteoclastprolif)
      (regcelldeath) edge (celldeath) (regPCD) edge (PCD) (regapop) edge (apoptotic) (regapopbm) edge (apopbm);
    \path[posregs] (posregglycogenmet) edge[bend left=10] (glycogenmet) (posregglycogenbio) edge[bend left=10] (glycogenbio)
      (posregglucosemet) edge[bend left=25] (glucosemet) (posregcarbmet) edge[bend right=25] (carbmet) (posregsmallmol) edge (smallmol)
      (posregmacromet) edge (macromet) (posregmacrobio) edge[out=150,in=210] (macrobio) (posregGE) edge[bend left=20] (geneexpr)
      (posregmet) edge[bend left=20] (metproc) (posregbiosyn) edge (biosyn) (posregalcoholbio) edge[bend right=35] (alcoholbio)
      (posregphosmet) edge (phosmet) (posregphosphatemet) edge[bend right=25] (phoscontmet) (posregcellbiosyn) edge (cellbiosyn)
      (posreginosphosbio) edge[bend right=30] (inosphosbio) (posregnucacidtrans) edge[bend right=30] (nucacidtrans)
      (posregDNAtrans) edge[bend right=20] (dnatrans) (posregtransRNAPII) edge[bend left=30] (transRNAPII)
      (posregrnabiosyn) edge[bend right=20] (rnabiosyn) (posregcellmet) edge[bend left=20] (cellmet) (posregnitromet) edge (nitrogenmet)
      (posregnucleomet) edge[bend right=25] (nucleomet) (posregrnamet) edge (rnamet) (posregmulticell) edge (multicellproc)
      (posregdev) edge (devproc) (posregossif) edge (ossification) (posregbiomin) edge (biomintissue)
      (posregbonemin) edge (bonemin) (posregbioproc) edge[bend left=15] (bp) (posregtransport) edge[bend left=30] (transport)
      (posregtmtransport) edge[bend left=30] (tmtransport) (posregglucosetm) edge[bend left=30] (glucosetm)
      (posregglucoseimport) edge[bend right=20] (glucoseimport) (posregsignaling) edge (signaling) (posregrespstim) edge[bend right=30] (responsestim)
      (posregcellproc) edge[bend left=30] (cellproc) (posregcellcomm) edge (cellcomm) (posregsigtrans) edge (signaltrans)
      (posregcellpopprolif) edge[bend right=40] (cellpopprolif) (posregcellprolifbm) edge[bend left=40] (cellprolifbm)
      (posregleukoprolif) edge[bend left=30] (leukoprolif) (posregosteoclastprolif) edge[bend right=25] (osteoclastprolif);
    \path[negregs] (negregGE) edge (geneexpr) (negregmet) edge[bend left=15] (metproc) (negregmacromet) edge (macromet)
      (negregossif) edge[bend left=25] (ossification) (negregmulticell) edge[bend right=20] (multicellproc)
      (negregbiomin) edge[bend right=40] (biomintissue) (negregbonemin) edge[bend right=35] (bonemin)
      (negregboneminbonematur) edge[bend right=35] (boneminbonematur) (negregdevproc) edge[bend right=25] (devproc)
      (negregbioproc) edge[bend left=10] (bp) (negregcelldiff) edge (celldiff) (negregchondrodiff) edge[bend left=20] (chondrodiff)
      (negregcartdev) edge[bend right=30] (cartdev) (negregcellproc) edge[bend right=10] (cellproc) (negregcelldeath) edge[bend left=20] (celldeath)
      (negregPCD) edge (PCD) (negregapop) edge[out=90,in=190] (apoptotic) (negregapopbm) edge[bend right=30] (apopbm);
    \path[partof] (extspace) edge (extreg) (nucacidtrans) edge (geneexpr) (bonemin) edge (ossification)
      (biomintissue) edge (animalorgandev) (systemdev) edge (multicelldev) (anatmatur) edge (anatdev) (animalorganmatur) edge (animalorgandev)
      (cartdev) edge[bend right=20] (conntissuedev) (bonedev) edge (skeletaldev) (cartdev) edge (skeletaldev) (bonematur) edge (bonedev)
      (ossifbonematur) edge (bonematur) (boneminbonematur) edge (ossifbonematur) (chondrodiff) edge (cartdev)
      (tissuehomeo) edge[bend right=40] (multicellhomeo) (signaltrans) edge (signaling) (signaltrans) edge (cellcomm)
      (signaltrans) edge (cellrespstim);
    \end{pgfonlayer}
\end{tikzpicture}
\end{document}
